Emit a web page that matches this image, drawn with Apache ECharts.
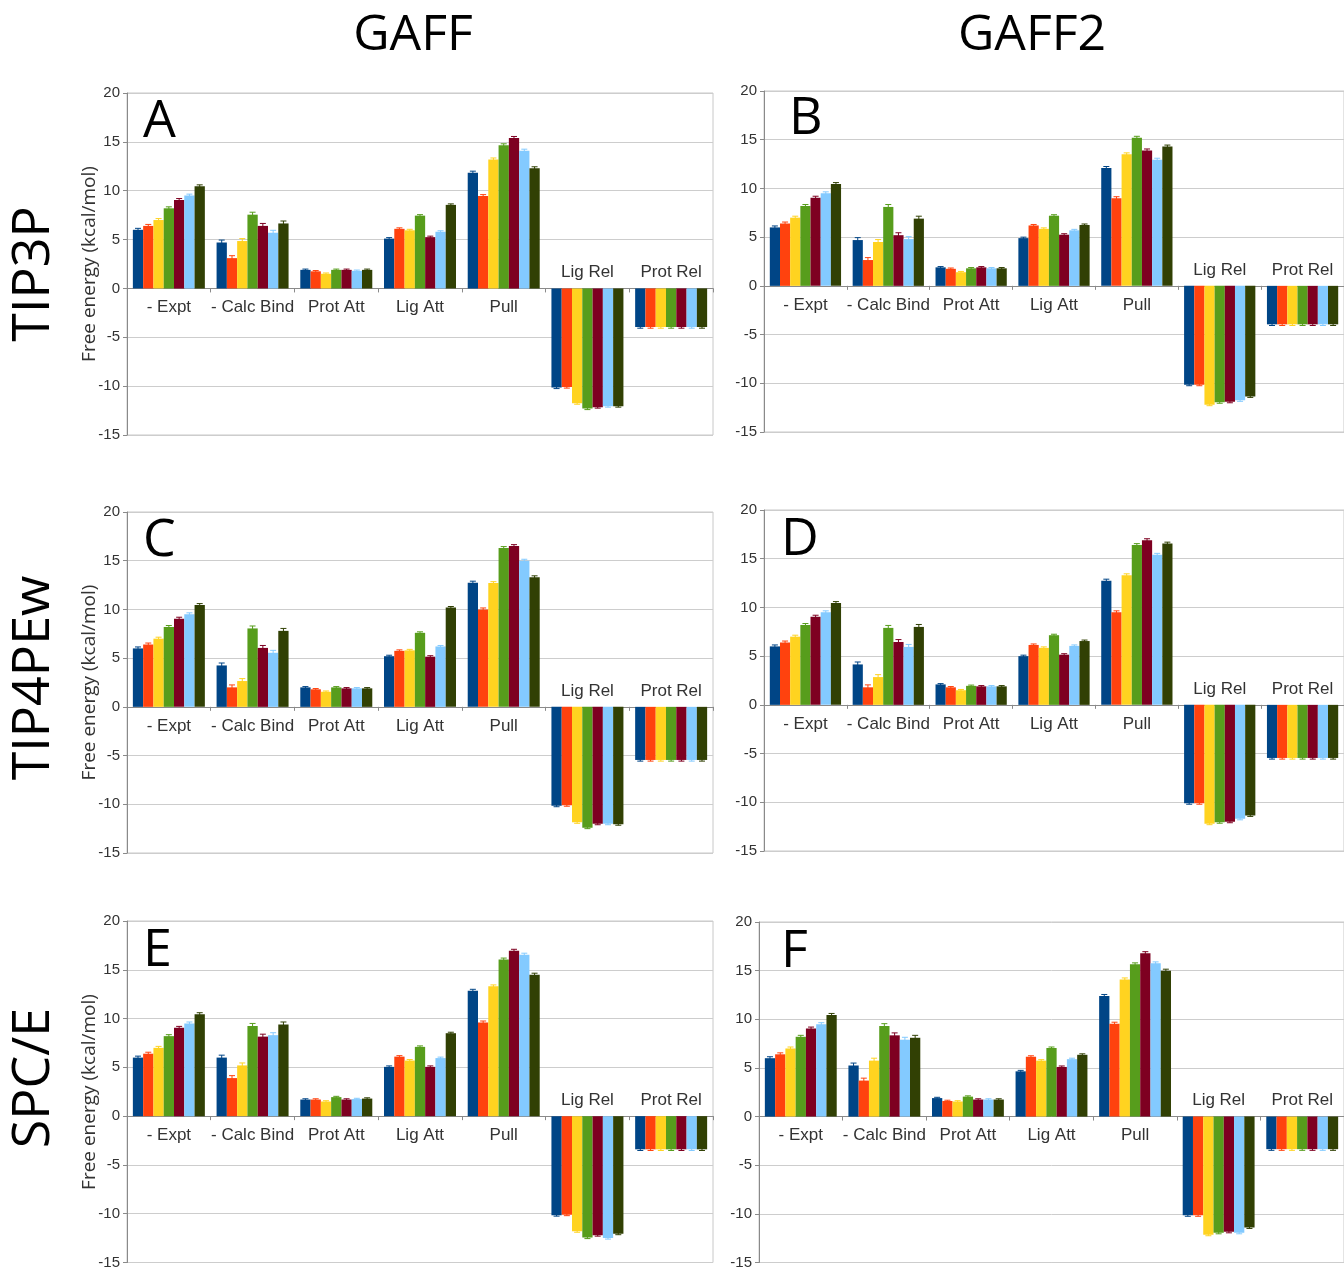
<!DOCTYPE html>
<html><head><meta charset="utf-8">
<script src="https://cdn.jsdelivr.net/npm/echarts@6/dist/echarts.min.js"></script>
<style>html,body{margin:0;padding:0;background:#fff}#c{width:1344px;height:1270px}</style>
</head><body><div id="c"></div>
<script>
// ---------------- DATA ----------------
const categories = ['- Expt', '- Calc Bind', 'Prot Att', 'Lig Att', 'Pull', 'Lig Rel', 'Prot Rel'];
const columnTitles = ['GAFF', 'GAFF2'];
const rowTitles = ['TIP3P', 'TIP4PEw', 'SPC/E'];
const panelLetters = ['A', 'B', 'C', 'D', 'E', 'F'];
const yAxisName = 'Free energy (kcal/mol)';
const yMin = -15, yMax = 20, yStep = 5;

// each row = one category, each column = one of the 7 series (colour order)
const exptValues = [6.0, 6.4, 7.0, 8.2, 9.05, 9.5, 10.45];

const valuesA = [ // GAFF / TIP3P
  exptValues,
  [4.7, 3.1, 4.85, 7.55, 6.4, 5.7, 6.65],
  [1.9, 1.75, 1.5, 1.9, 1.9, 1.8, 1.9],
  [5.1, 6.1, 5.95, 7.45, 5.25, 5.8, 8.55],
  [11.85, 9.45, 13.2, 14.65, 15.4, 14.1, 12.3],
  [-10.15, -10.1, -11.75, -12.3, -12.15, -12.05, -12.05],
  [-3.95, -3.95, -3.95, -3.95, -3.95, -3.95, -3.95]
];
const valuesB = [ // GAFF2 / TIP3P
  exptValues,
  [4.7, 2.65, 4.5, 8.1, 5.2, 4.8, 6.9],
  [1.9, 1.75, 1.4, 1.8, 1.9, 1.8, 1.8],
  [4.9, 6.2, 5.85, 7.2, 5.25, 5.7, 6.25],
  [12.1, 9.0, 13.5, 15.2, 13.9, 12.95, 14.3],
  [-10.15, -10.15, -12.2, -11.95, -11.9, -11.75, -11.35],
  [-3.95, -3.95, -3.95, -3.95, -3.95, -3.95, -3.95]
];
const valuesC = [ // GAFF / TIP4PEw
  exptValues,
  [4.25, 2.0, 2.65, 8.05, 6.05, 5.55, 7.8],
  [2.0, 1.8, 1.55, 2.0, 1.9, 1.9, 1.9],
  [5.2, 5.75, 5.8, 7.6, 5.15, 6.2, 10.2],
  [12.75, 10.0, 12.7, 16.3, 16.5, 15.0, 13.3],
  [-10.15, -10.1, -11.85, -12.4, -12.0, -12.0, -12.05],
  [-5.45, -5.45, -5.45, -5.45, -5.45, -5.45, -5.45]
];
const valuesD = [ // GAFF2 / TIP4PEw
  exptValues,
  [4.15, 1.8, 2.85, 7.9, 6.45, 5.95, 8.0],
  [2.1, 1.8, 1.5, 1.95, 1.9, 1.9, 1.9],
  [5.0, 6.15, 5.85, 7.15, 5.15, 6.05, 6.55],
  [12.75, 9.5, 13.3, 16.4, 16.9, 15.4, 16.55],
  [-10.1, -10.1, -12.2, -12.05, -12.0, -11.7, -11.35],
  [-5.45, -5.45, -5.45, -5.45, -5.45, -5.45, -5.45]
];
const valuesE = [ // GAFF / SPC/E
  exptValues,
  [6.0, 3.9, 5.2, 9.25, 8.15, 8.3, 9.4],
  [1.7, 1.7, 1.5, 1.95, 1.7, 1.75, 1.8],
  [5.05, 6.1, 5.7, 7.1, 5.05, 5.95, 8.5],
  [12.85, 9.6, 13.3, 16.05, 16.95, 16.55, 14.5],
  [-10.15, -10.1, -11.8, -12.45, -12.2, -12.5, -12.05],
  [-3.4, -3.4, -3.4, -3.4, -3.4, -3.4, -3.4]
];
const valuesF = [ // GAFF2 / SPC/E
  exptValues,
  [5.25, 3.7, 5.75, 9.3, 8.35, 7.9, 8.1],
  [1.9, 1.6, 1.55, 2.05, 1.75, 1.75, 1.75],
  [4.65, 6.15, 5.75, 7.05, 5.1, 5.9, 6.35],
  [12.4, 9.55, 14.1, 15.65, 16.8, 15.75, 15.0],
  [-10.15, -10.15, -12.15, -11.95, -11.85, -11.95, -11.4],
  [-3.35, -3.35, -3.35, -3.35, -3.35, -3.35, -3.35]
];
// approximate error-bar half widths per category
const errorBars = [0.15, 0.25, 0.08, 0.1, 0.15, 0.1, 0.12];

// ---------------- STYLE / LAYOUT ----------------
const colors = ['#004586', '#ff420e', '#ffd320', '#579d1c', '#7e0021', '#83caff', '#314004'];
const CAT_GAP = 0.14;
const panels = [
  { values: valuesA, grid: { left: 127, top: 93, width: 586, height: 342 }, letter: [143, 122] },
  { values: valuesB, grid: { left: 764, top: 91, width: 590, height: 341 }, letter: [789, 119] },
  { values: valuesC, grid: { left: 127, top: 512, width: 586, height: 341 }, letter: [143, 541] },
  { values: valuesD, grid: { left: 764, top: 510, width: 590, height: 341 }, letter: [781, 540] },
  { values: valuesE, grid: { left: 127, top: 921, width: 586, height: 342 }, letter: [143, 951] },
  { values: valuesF, grid: { left: 759, top: 922, width: 590, height: 342 }, letter: [781, 952] }
];

const grids = [], xAxes = [], yAxes = [], series = [], graphics = [];
const tickFont = '"Liberation Sans", Arial, sans-serif';
const bigFont = '"Open Sans", "DejaVu Sans", sans-serif';

panels.forEach((p, i) => {
  grids.push(Object.assign({ show: true, borderColor: '#c8c8c8', borderWidth: 1, containLabel: false }, p.grid));
  xAxes.push({
    type: 'category', gridIndex: i, data: categories, boundaryGap: true,
    axisLine: { show: true, onZero: true, lineStyle: { color: '#8a8a8a', width: 1 } },
    axisTick: { show: true, length: 4, lineStyle: { color: '#8a8a8a' } },
    axisLabel: { show: false }, splitLine: { show: false }
  });
  yAxes.push({
    type: 'value', gridIndex: i, min: yMin, max: yMax, interval: yStep,
    axisLine: { show: true, lineStyle: { color: '#8a8a8a', width: 1 } },
    axisTick: { show: true, length: 4, inside: false, lineStyle: { color: '#8a8a8a' } },
    axisLabel: { fontSize: 15, color: '#333', fontFamily: tickFont, margin: 7 },
    splitLine: { show: true, lineStyle: { color: '#cdcdcd', width: 1 } }
  });
  for (let s = 0; s < colors.length; s++) {
    series.push({
      type: 'bar', xAxisIndex: i, yAxisIndex: i,
      data: p.values.map(row => row[s]),
      itemStyle: { color: colors[s] },
      barGap: '0%', barCategoryGap: (CAT_GAP * 100) + '%',
      animation: false, silent: true
    });
  }
  // error bars
  const errData = [];
  p.values.forEach((row, c) => row.forEach((v, s) => errData.push([c, v, s, errorBars[c]])));
  series.push({
    type: 'custom', xAxisIndex: i, yAxisIndex: i, data: errData, z: 5, animation: false, silent: true,
    encode: { x: 0, y: 1 },
    renderItem: function (params, api) {
      const c = api.value(0), v = api.value(1), s = api.value(2), e = api.value(3);
      const sign = v < 0 ? -1 : 1;
      const base = api.coord([c, v]);
      const tip = api.coord([c, v + sign * e]);
      const low = api.coord([c, v - sign * e]);
      const band = api.size([1, 0])[0];
      const bw = band * (1 - CAT_GAP) / colors.length;
      const x = base[0] + (s - (colors.length - 1) / 2) * bw;
      const st = { stroke: colors[s], lineWidth: 1 };
      return { type: 'group', children: [
        { type: 'line', shape: { x1: x, y1: low[1], x2: x, y2: tip[1] }, style: st },
        { type: 'line', shape: { x1: x - 3, y1: tip[1], x2: x + 3, y2: tip[1] }, style: st }
      ] };
    }
  });
  // category labels (below zero for positive groups, above for negative groups)
  const labData = categories.map((name, c) => [c, 0, p.values[c][0] < 0 ? 1 : 0]);
  series.push({
    type: 'custom', xAxisIndex: i, yAxisIndex: i, data: labData, z: 6, animation: false, silent: true,
    encode: { x: 0, y: 1 },
    renderItem: function (params, api) {
      const c = api.value(0), neg = api.value(2);
      const pt = api.coord([c, 0]);
      return { type: 'text', x: pt[0], y: pt[1] + (neg ? -16 : 19),
        style: { text: categories[params.dataIndex], align: 'center', verticalAlign: 'middle',
          font: '17px ' + tickFont, fill: '#333' } };
    }
  });
  graphics.push({ type: 'text', x: p.letter[0], y: p.letter[1],
    style: { text: panelLetters[i], font: '52px ' + bigFont, fill: '#000', align: 'left', verticalAlign: 'middle' }, z: 10 });
  if (i % 2 === 0) {
    graphics.push({ type: 'text', x: 90, y: p.grid.top + p.grid.height / 2, rotation: Math.PI / 2,
      style: { text: yAxisName, font: '19px ' + bigFont, fill: '#333', align: 'center', verticalAlign: 'middle' } });
  }
});

graphics.push({ type: 'text', x: 413, y: 36, style: { text: columnTitles[0], font: '50px ' + bigFont, fill: '#000', align: 'center', verticalAlign: 'middle' } });
graphics.push({ type: 'text', x: 1032, y: 36, style: { text: columnTitles[1], font: '50px ' + bigFont, fill: '#000', align: 'center', verticalAlign: 'middle' } });
const rowCenters = [274, 678, 1078];
rowTitles.forEach((t, r) => {
  graphics.push({ type: 'text', x: 34, y: rowCenters[r], rotation: Math.PI / 2,
    style: { text: t, font: '52px ' + bigFont, fill: '#000', align: 'center', verticalAlign: 'middle' } });
});

const chart = echarts.init(document.getElementById('c'), null, { renderer: 'canvas' });
chart.setOption({
  animation: false,
  backgroundColor: '#fff',
  grid: grids, xAxis: xAxes, yAxis: yAxes, series: series, graphic: graphics
});
</script></body></html>
